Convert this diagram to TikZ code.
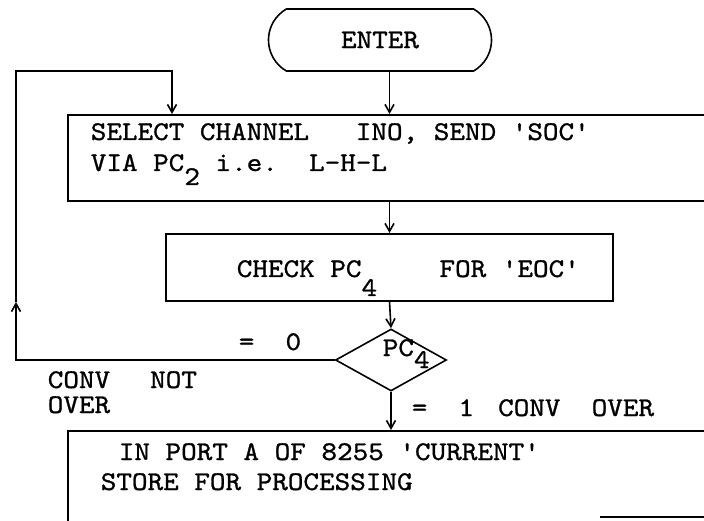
\documentclass[tikz,border=0pt]{standalone}
\usepackage{fontspec}
\newfontfamily\typewriter{lmmono10-regular.otf}[FakeBold=1,FakeStretch=1.1]
\usetikzlibrary{arrows.meta,shapes.geometric,shapes.misc}

\newcommand{\lowdigit}[2][9pt]{\raisebox{-#1}{#2}}

\begin{document}
\begin{tikzpicture}[x=1pt,y=-1pt,>={Straight Barb[length=8pt,width=9pt]},
  line width=1.6pt,
  every node/.style={font=\typewriter\fontsize{27}{30}\selectfont},
  box/.style={draw,rectangle,inner sep=0pt},
  txt/.style={inner sep=0pt,anchor=base west}]
  \clip (0,0) rectangle (704,521);
  % flow boxes
  \node[rounded rectangle,rounded rectangle arc length=120,draw,
    minimum width=223,minimum height=62,inner sep=0pt] (enter) at (380,40) {ENTER};
  \node[box,anchor=north west,minimum width=700,minimum height=86] (select) at (67,114) {};
  \node[box,anchor=north,minimum width=447,minimum height=67] (check) at (389.5,233) {};
  \node[diamond,draw,minimum width=111,minimum height=62,inner sep=0pt] (test) at (391,360) {};
  \node[box,anchor=north west,minimum width=700,minimum height=110] (store) at (67,430) {};
  % texts
  \node[txt] (selectA) at (90,140) {SELECT CHANNEL\ \ \ INO, SEND 'SOC'};
  \node[txt] (selectB) at (90,171) {VIA PC\lowdigit[14pt]{2} i.e.\ \ L-H-L};
  \node[txt] (checkA) at (236,277) {CHECK PC\lowdigit[19pt]{4}\ \ \ \ FOR 'EOC'};
  \node[txt] (pcfour) at (382,356) {PC\lowdigit[12pt]{4}};
  \node[txt] (zerolabel) at (238,350) {=\ \ 0};
  \node[txt] (notA) at (47,388) {CONV\hspace{40pt}NOT};
  \node[txt] (notB) at (47,413) {OVER};
  \node[txt] (onelabel) at (411,416) {=\ \ 1\hspace{24pt}CONV\ \ OVER};
  \node[txt] (storeA) at (118,460) {IN PORT A OF 8255 'CURRENT'};
  \node[txt] (storeB) at (100,490) {STORE FOR PROCESSING};
  % connectors
  \coordinate (looptip) at (16,302);
  \coordinate (loopcorner) at (16,71);
  \coordinate (loopend) at (172,71);
  \coordinate (storeedge) at (600,517);
  \draw[->] (enter.south -| check.north) -- (select.north -| check.north);
  \draw[->] (select.south -| check.north) -- (check.north);
  \draw[->] (check.south) -- (test.north);
  \draw[->] (test.south) -- (test.south |- store.north);
  \draw[->] (test.west) -- (test.west -| looptip) -- (looptip);
  \draw[->] (looptip) -- (loopcorner) -- (loopend) -- (loopend |- select.north);
  \draw (storeedge) -- (storeedge -| store.east);
\end{tikzpicture}
\end{document}
